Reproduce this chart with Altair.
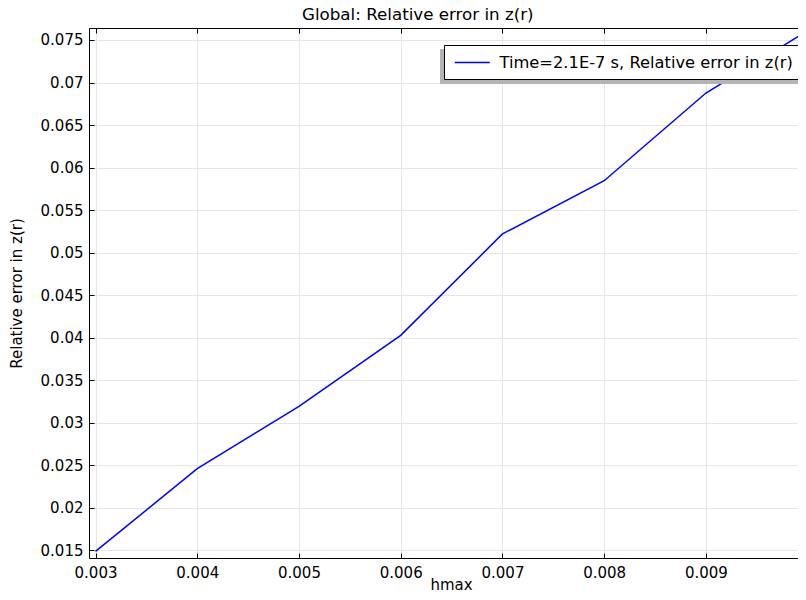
import altair as alt
import pandas as pd

hmax = [0.003, 0.004, 0.005, 0.006, 0.007, 0.008, 0.009, 0.010]
rel_err = [0.01488, 0.02461, 0.03193, 0.04028, 0.0522, 0.05846, 0.06877, 0.0761]
series_name = "Time=2.1E-7 s, Relative error in z(r)"
x_ticks = [0.003, 0.004, 0.005, 0.006, 0.007, 0.008, 0.009]
y_ticks = [0.015, 0.02, 0.025, 0.03, 0.035, 0.04, 0.045, 0.05, 0.055, 0.06, 0.065, 0.07, 0.075]

df = pd.DataFrame({"hmax": hmax, "err": rel_err,
                   "series": [series_name] * len(hmax),
                   "shadow": [series_name] * len(hmax)})

W, H = 709, 530
FONT = "DejaVu Sans"
x_scale = alt.Scale(domain=[0.002936, 0.009905], nice=False, zero=False)
y_scale = alt.Scale(domain=[0.01411, 0.07641], nice=False, zero=False)

SYM = "M-0.771,0L3.229,0"
legend_common = dict(title=None, orient="none", symbolType=SYM, symbolSize=306,
                     symbolStrokeWidth=1.5, labelFontSize=16.3, labelFont=FONT,
                     padding=8, labelLimit=400, labelOffset=28.5)

main = alt.Chart(df).mark_line(clip=True, strokeWidth=1.5).encode(
    x=alt.X("hmax:Q", scale=x_scale,
            axis=alt.Axis(orient="bottom", values=x_ticks, format=".3~f", grid=True,
                          ticks=False, title="hmax", labelFontSize=15, titleFontSize=15,
                          labelPadding=7, titlePadding=-3, titleX=362)),
    y=alt.Y("err:Q", scale=y_scale,
            axis=alt.Axis(orient="left", values=y_ticks, format=".3~f", grid=True,
                          ticks=False, title="Relative error in z(r)", labelFontSize=15,
                          titleFontSize=15, labelPadding=6, titlePadding=16)),
    color=alt.Color("series:N", scale=alt.Scale(range=["#0000ff"]),
                    legend=alt.Legend(legendX=355, legendY=17, strokeColor="black",
                                      fillColor="white", zindex=2, **legend_common)),
)

ticks_a = alt.Chart(df).mark_line(opacity=0).encode(
    x=alt.X("hmax:Q", scale=x_scale,
            axis=alt.Axis(orient="top", offset=-H, values=x_ticks, labels=False, grid=False,
                          domain=False, ticks=True, tickSize=5, title=None)),
    y=alt.Y("err:Q", scale=y_scale,
            axis=alt.Axis(orient="right", offset=-W, values=y_ticks, labels=False, grid=False,
                          domain=False, ticks=True, tickSize=5, title=None)),
    strokeDash=alt.StrokeDash("shadow:N",
                              legend=alt.Legend(legendX=351, legendY=21, strokeColor="#b4b4b4",
                                                fillColor="#b4b4b4", labelOpacity=0,
                                                symbolOpacity=0, zindex=1, **legend_common)),
)

ticks_b = alt.Chart(df).mark_line(opacity=0).encode(
    x=alt.X("hmax:Q", scale=x_scale,
            axis=alt.Axis(orient="bottom", offset=-H, values=x_ticks, labels=False, grid=False,
                          domain=True, ticks=True, tickSize=5, title=None)),
    y=alt.Y("err:Q", scale=y_scale, axis=None),
)

chart = alt.layer(main, ticks_a, ticks_b).resolve_axis(
    x="independent", y="independent"
).properties(
    width=W, height=H,
    title=alt.TitleParams("Global: Relative error in z(r)", anchor="start", frame="group",
                          dx=213, fontSize=16.7, font=FONT, fontWeight="normal",
                          color="black", offset=4),
    autosize=alt.AutoSizeParams(type="none"),
    padding={"left": 81, "top": 20, "right": 0, "bottom": 34},
).configure_axis(
    labelFont=FONT, titleFont=FONT, labelColor="black", titleColor="black",
    titleFontWeight="normal", domainColor="black", tickColor="black",
    gridColor="#e6e6e6", gridWidth=1,
).configure_view(strokeWidth=0)

chart.save("out.html", embed_options={"renderer": "svg", "actions": False})
